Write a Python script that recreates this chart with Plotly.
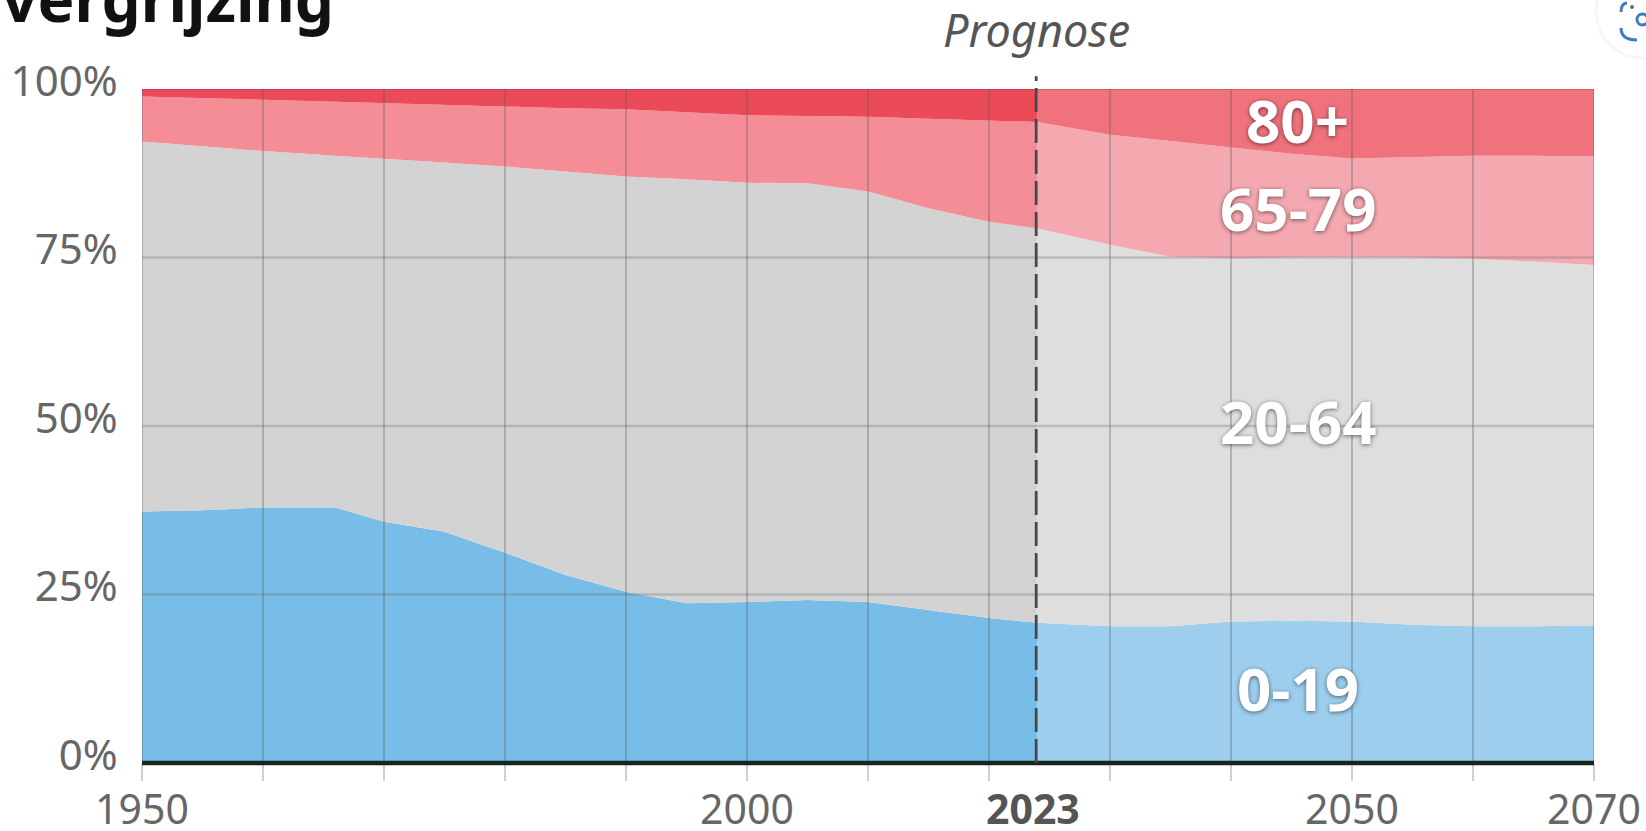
import plotly.graph_objects as go

hist_years = [1950,1955,1960,1966,1970,1975,1980,1985,1990,1995,2000,2005,2010,2015,2020,2024]
hist_0_19 = [37.3,37.5,37.9,37.9,35.8,34.3,31.2,27.9,25.4,23.7,23.9,24.2,23.9,22.7,21.5,20.8]
hist_20_64 = [54.9,54.0,52.9,52.2,53.9,54.8,57.3,59.9,61.6,62.9,62.2,61.8,60.9,59.6,58.8,58.5]
hist_65_79 = [6.7,7.1,7.6,8.0,8.2,8.5,8.8,9.35,10,10,10,10,11.1,13.3,15,15.8]
hist_80 = [1.1,1.4,1.6,1.9,2.1,2.4,2.7,2.85,3,3.4,3.9,4,4.1,4.4,4.7,4.9]

prog_years = [2024,2030,2035,2040,2045,2050,2055,2060,2065,2070]
prog_0_19 = [20.8,20.3,20.3,21,21.1,21,20.5,20.3,20.3,20.4]
prog_20_64 = [58.5,56.6,54.8,53.9,53.9,54.1,54.5,54.5,54.1,53.5]
prog_65_79 = [15.8,16.3,17.2,16.5,15.4,14.6,14.9,15.3,15.7,16.1]
prog_80 = [4.9,6.8,7.7,8.6,9.6,10.3,10.1,9.9,9.9,10]

age_groups = ["0-19","20-64","65-79","80+"]
hist_colors = ["#78BDE8","#D3D3D3","#F48D95","#EB4A58"]
prog_colors = ["#9DCEEE","#DEDEDE","#F4A8B0","#F0727C"]

x_ticks = [1950,1960,1970,1980,1990,2000,2010,2020,2030,2040,2050,2060,2070]
x_labels = ["1950","","","","","2000","","","","","2050","","2070"]
y_ticks = [0,25,50,75,100]
y_labels = ["0%","25%","50%","75%","100%"]
label_x = 2045.5
label_y = [11.1,50.7,82.3,95.4]
split_year = 2023.9

FONT = "Noto Sans"
WIDTH, HEIGHT = 1646, 831
ML, MR, MT, MB = 142, 52, 89, 68


def px(x):
    return (x - ML) / (WIDTH - ML - MR)


def py(y):
    return (HEIGHT - MB - y) / (HEIGHT - MT - MB)


fig = go.Figure()
for name, vals, col in zip(age_groups, [hist_0_19,hist_20_64,hist_65_79,hist_80], hist_colors):
    fig.add_trace(go.Scatter(x=hist_years, y=vals, name=name, stackgroup="hist", mode="lines",
                             line=dict(width=0, color=col), fillcolor=col, showlegend=False))
for name, vals, col in zip(age_groups, [prog_0_19,prog_20_64,prog_65_79,prog_80], prog_colors):
    fig.add_trace(go.Scatter(x=prog_years, y=vals, name=name+" prognose", stackgroup="prog", mode="lines",
                             line=dict(width=0, color=col), fillcolor=col, showlegend=False))

shapes = []
for x in x_ticks:
    shapes.append(dict(type="line", xref="x", yref="y", x0=x, x1=x, y0=0, y1=100, layer="above",
                       line=dict(color="rgba(90,90,90,0.32)", width=2)))
for y in y_ticks[1:-1]:
    shapes.append(dict(type="line", xref="x", yref="y", x0=1950, x1=2070, y0=y, y1=y, layer="above",
                       line=dict(color="rgba(100,100,100,0.28)", width=2.6)))
shapes.append(dict(type="line", xref="x", yref="y", x0=1950, x1=2070, y0=100, y1=100, layer="above",
                   line=dict(color="rgba(150,30,50,0.35)", width=1.5)))
shapes.append(dict(type="line", xref="x", yref="paper", x0=1950, x1=2070, y0=0, y1=0, layer="above",
                   line=dict(color="#18261E", width=4.5)))
shapes.append(dict(type="line", xref="x", yref="paper", x0=split_year, x1=split_year, y0=0, y1=1.019, layer="above",
                   line=dict(color="#44484C", width=2.8, dash="24px,7px")))

# Floating image-search button in the top right corner of the screenshot
ICON_BLUE = "#3B7DC4"
shapes.append(dict(type="circle", xref="paper", yref="paper", x0=px(1596), x1=px(1690), y0=py(58), y1=py(-36),
                   fillcolor="white", line=dict(color="rgba(0,0,0,0.03)", width=3), layer="above"))
for d in [
    f"M {px(1627)} {py(3)} Q {px(1621)} {py(3)} {px(1621)} {py(12)}",
    f"M {px(1621)} {py(28)} Q {px(1621)} {py(40)} {px(1637)} {py(40)}",
]:
    shapes.append(dict(type="path", xref="paper", yref="paper", path=d, layer="above",
                       line=dict(color=ICON_BLUE, width=3)))
shapes.append(dict(type="circle", xref="paper", yref="paper", x0=px(1637), x1=px(1648), y0=py(25), y1=py(14),
                   line=dict(color=ICON_BLUE, width=3), layer="above"))
shapes.append(dict(type="circle", xref="paper", yref="paper", x0=px(1630), x1=px(1634), y0=py(9), y1=py(5),
                   fillcolor="#5A6B7D", line=dict(width=0), layer="above"))

annotations = [
    dict(text=t, x=label_x, y=y, xref="x", yref="y", showarrow=False,
         font=dict(family=FONT, size=60, color="white", weight=700, shadow="0 1px 4px rgba(0,0,0,0.55)"))
    for t, y in zip(age_groups, label_y)
]
annotations.append(dict(text="<i>Prognose</i>", x=split_year, xref="x", y=1.088, yref="paper", yanchor="middle",
                        showarrow=False, font=dict(family=FONT, size=45, color="#555555")))
annotations.append(dict(text="<b>2023</b>", x=split_year-0.3, xref="x", y=-0.067, yref="paper", yanchor="middle",
                        showarrow=False, font=dict(family=FONT, size=41, color="#555555")))
annotations.append(dict(text="<b>vergrijzing</b>", x=0, xref="paper", xanchor="left", xshift=-142,
                        y=1.135, yref="paper", yanchor="middle", showarrow=False,
                        font=dict(family=FONT, size=62, color="#111111")))

fig.update_layout(
    width=WIDTH, height=HEIGHT, autosize=False,
    margin=dict(l=ML, r=MR, t=MT, b=MB),
    paper_bgcolor="white", plot_bgcolor="white",
    font=dict(family=FONT, size=41, color="#666666"),
    shapes=shapes, annotations=annotations, showlegend=False,
    xaxis=dict(range=[1950,2070], tickvals=x_ticks, ticktext=x_labels, showgrid=False, zeroline=False,
               ticks="outside", ticklen=17, tickcolor="#CFCFCF", tickwidth=1.8, showline=False, automargin=False,
               ticklabelstandoff=-6, tickfont=dict(family=FONT, size=41, color="#666666")),
    yaxis=dict(range=[0,100], tickvals=y_ticks, ticktext=y_labels, showgrid=False, zeroline=False,
               ticks="outside", ticklen=15, tickcolor="rgba(0,0,0,0)", showline=False, ticklabelshift=-8, automargin=False,
               tickfont=dict(family=FONT, size=42, color="#666666")),
)
fig.write_html("out.html", post_script="document.body.style.margin='0';", config=dict(displayModeBar=False))
